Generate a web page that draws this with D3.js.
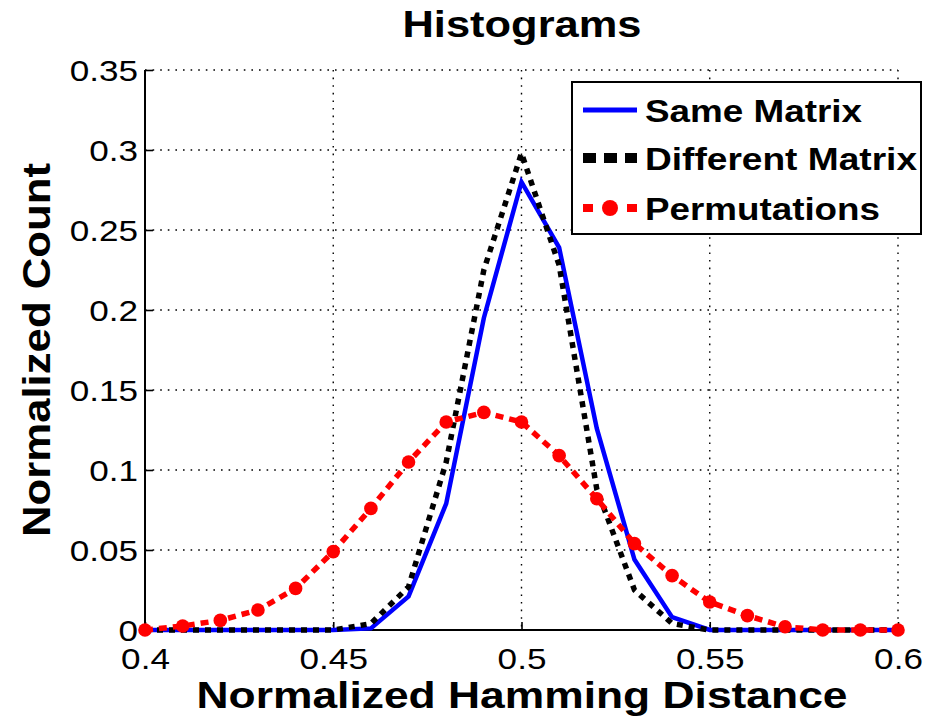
<!DOCTYPE html>
<html>
<head>
<meta charset="utf-8">
<script src="https://cdn.jsdelivr.net/npm/d3@7"></script>
<style>
  html, body { margin: 0; padding: 0; background: #fff; }
  svg { display: block; }
  text { font-family: "Liberation Sans", Arial, Helvetica, sans-serif; fill: #000; }
</style>
</head>
<body>
<svg id="chart" width="927" height="716"></svg>
<script>
// Bin centres (normalized Hamming distance)
const binCenters = [0.40, 0.41, 0.42, 0.43, 0.44, 0.45, 0.46, 0.47, 0.48, 0.49, 0.50,
                    0.51, 0.52, 0.53, 0.54, 0.55, 0.56, 0.57, 0.58, 0.59, 0.60];
// Normalized counts per bin
const sameMatrix = [0, 0, 0, 0, 0, 0, 0.001, 0.021, 0.079, 0.195, 0.280,
                    0.239, 0.126, 0.044, 0.008, 0, 0, 0, 0, 0, 0];
const differentMatrix = [0, 0, 0, 0, 0, 0, 0.004, 0.027, 0.105, 0.225, 0.298,
                         0.228, 0.088, 0.025, 0.004, 0, 0, 0, 0, 0, 0];
const permutations = [0, 0.0025, 0.006, 0.0125, 0.026, 0.049, 0.076, 0.105, 0.130, 0.136, 0.130,
                      0.109, 0.082, 0.054, 0.034, 0.0175, 0.009, 0.002, 0, 0, 0];

const xTicks = [0.4, 0.45, 0.5, 0.55, 0.6];
const xTickLabels = ["0.4", "0.45", "0.5", "0.55", "0.6"];
const yTicks = [0, 0.05, 0.1, 0.15, 0.2, 0.25, 0.3, 0.35];
const yTickLabels = ["0", "0.05", "0.1", "0.15", "0.2", "0.25", "0.3", "0.35"];

const seriesNames = ["Same Matrix", "Different Matrix", "Permutations"];

const svg = d3.select("#chart");
const plot = { left: 145, right: 898, top: 70, bottom: 630 };

const x = d3.scaleLinear().domain([0.4, 0.6]).range([plot.left, plot.right]);
const y = d3.scaleLinear().domain([0, 0.35]).range([plot.bottom, plot.top]);

// Widen text horizontally by a constant factor
function widen(sel, factor) {
  sel.each(function () {
    const w = this.getComputedTextLength();
    d3.select(this).attr("textLength", w * factor).attr("lengthAdjust", "spacingAndGlyphs");
  });
}

// Dotted grid
const grid = svg.append("g").attr("class", "grid")
  .attr("stroke", "#000").attr("stroke-width", 1.4).attr("stroke-dasharray", "1.6,6");
grid.selectAll("line.v").data(xTicks.slice(1)).join("line")
  .attr("x1", d => x(d)).attr("x2", d => x(d))
  .attr("y1", plot.top).attr("y2", plot.bottom);
grid.selectAll("line.h").data(yTicks.slice(1)).join("line")
  .attr("x1", plot.left).attr("x2", plot.right)
  .attr("y1", d => y(d)).attr("y2", d => y(d));

// Axes (ticks point into the plot)
const xAxis = d3.axisBottom(x).tickValues(xTicks).tickSize(-8).tickFormat((d, i) => xTickLabels[i]);
const yAxis = d3.axisLeft(y).tickValues(yTicks).tickSize(-8).tickFormat((d, i) => yTickLabels[i]);

const gx = svg.append("g").attr("transform", `translate(0,${plot.bottom})`).call(xAxis);
const gy = svg.append("g").attr("transform", `translate(${plot.left},0)`).call(yAxis);
[gx, gy].forEach(g => {
  g.select(".domain").attr("stroke", "#000").attr("stroke-width", 2);
  g.selectAll(".tick line").attr("stroke", "#000").attr("stroke-width", 1.6);
  g.selectAll(".tick text")
    .attr("font-family", "'Liberation Sans', Arial, sans-serif")
    .attr("font-size", 30).attr("fill", "#2a2a2a");
});
gx.select(".domain").attr("d", `M${plot.left},0H${plot.right}`);
gy.select(".domain").attr("d", `M0,${plot.bottom}V${plot.top}`);
gx.selectAll(".tick text").attr("y", 0).attr("dy", 0).attr("transform", "translate(0,39)").call(widen, 1.17);
gy.selectAll(".tick text").attr("x", -7).attr("dy", "0.34em").call(widen, 1.17);

// Series lines
const line = d3.line().x((d, i) => x(binCenters[i])).y(d => y(d));

svg.append("path").datum(sameMatrix)
  .attr("fill", "none").attr("stroke", "#0000ff").attr("stroke-width", 4.5)
  .attr("stroke-linejoin", "miter").attr("d", line);

svg.append("path").datum(differentMatrix)
  .attr("fill", "none").attr("stroke", "#000").attr("stroke-width", 5.5)
  .attr("stroke-dasharray", "6,6").attr("d", line);

svg.append("path").datum(permutations)
  .attr("fill", "none").attr("stroke", "#ff0000").attr("stroke-width", 5.5)
  .attr("stroke-dasharray", "8,6").attr("d", line);

svg.append("g").selectAll("circle").data(permutations).join("circle")
  .attr("cx", (d, i) => x(binCenters[i])).attr("cy", d => y(d))
  .attr("r", 6.8).attr("fill", "#ff0000");

// Title and axis labels
svg.append("text").attr("x", 522).attr("y", 37).attr("text-anchor", "middle")
  .attr("font-weight", "bold").attr("font-size", 37)
  .attr("textLength", 239).attr("lengthAdjust", "spacingAndGlyphs")
  .text("Histograms");

svg.append("text").attr("x", 522).attr("y", 708).attr("text-anchor", "middle")
  .attr("font-weight", "bold").attr("font-size", 36)
  .attr("textLength", 651).attr("lengthAdjust", "spacingAndGlyphs")
  .text("Normalized Hamming Distance");

svg.append("text").attr("transform", "translate(50,350) rotate(-90)").attr("text-anchor", "middle")
  .attr("font-weight", "bold").attr("font-size", 38)
  .attr("textLength", 374).attr("lengthAdjust", "spacingAndGlyphs")
  .text("Normalized Count");

// Legend
const legend = svg.append("g");
legend.append("rect").attr("x", 572).attr("y", 82).attr("width", 349).attr("height", 152)
  .attr("fill", "#fff").attr("stroke", "#000").attr("stroke-width", 2);

const rowsY = [110, 158, 208];
const textW = [217, 272, 235];

legend.append("line").attr("x1", 583).attr("x2", 637).attr("y1", rowsY[0]).attr("y2", rowsY[0])
  .attr("stroke", "#0000ff").attr("stroke-width", 5);
legend.append("line").attr("x1", 583).attr("x2", 637).attr("y1", rowsY[1]).attr("y2", rowsY[1])
  .attr("stroke", "#000").attr("stroke-width", 10).attr("stroke-dasharray", "13,8");
legend.append("line").attr("x1", 583).attr("x2", 637).attr("y1", rowsY[2]).attr("y2", rowsY[2])
  .attr("stroke", "#ff0000").attr("stroke-width", 8).attr("stroke-dasharray", "10,34,10");
legend.append("circle").attr("cx", 610).attr("cy", rowsY[2]).attr("r", 8).attr("fill", "#ff0000");

legend.selectAll("text.lbl").data(seriesNames).join("text")
  .attr("class", "lbl")
  .attr("x", 645).attr("y", (d, i) => rowsY[i] + 12)
  .attr("font-weight", "bold").attr("font-size", 32)
  .attr("textLength", (d, i) => textW[i]).attr("lengthAdjust", "spacingAndGlyphs")
  .text(d => d);
</script>
</body>
</html>
